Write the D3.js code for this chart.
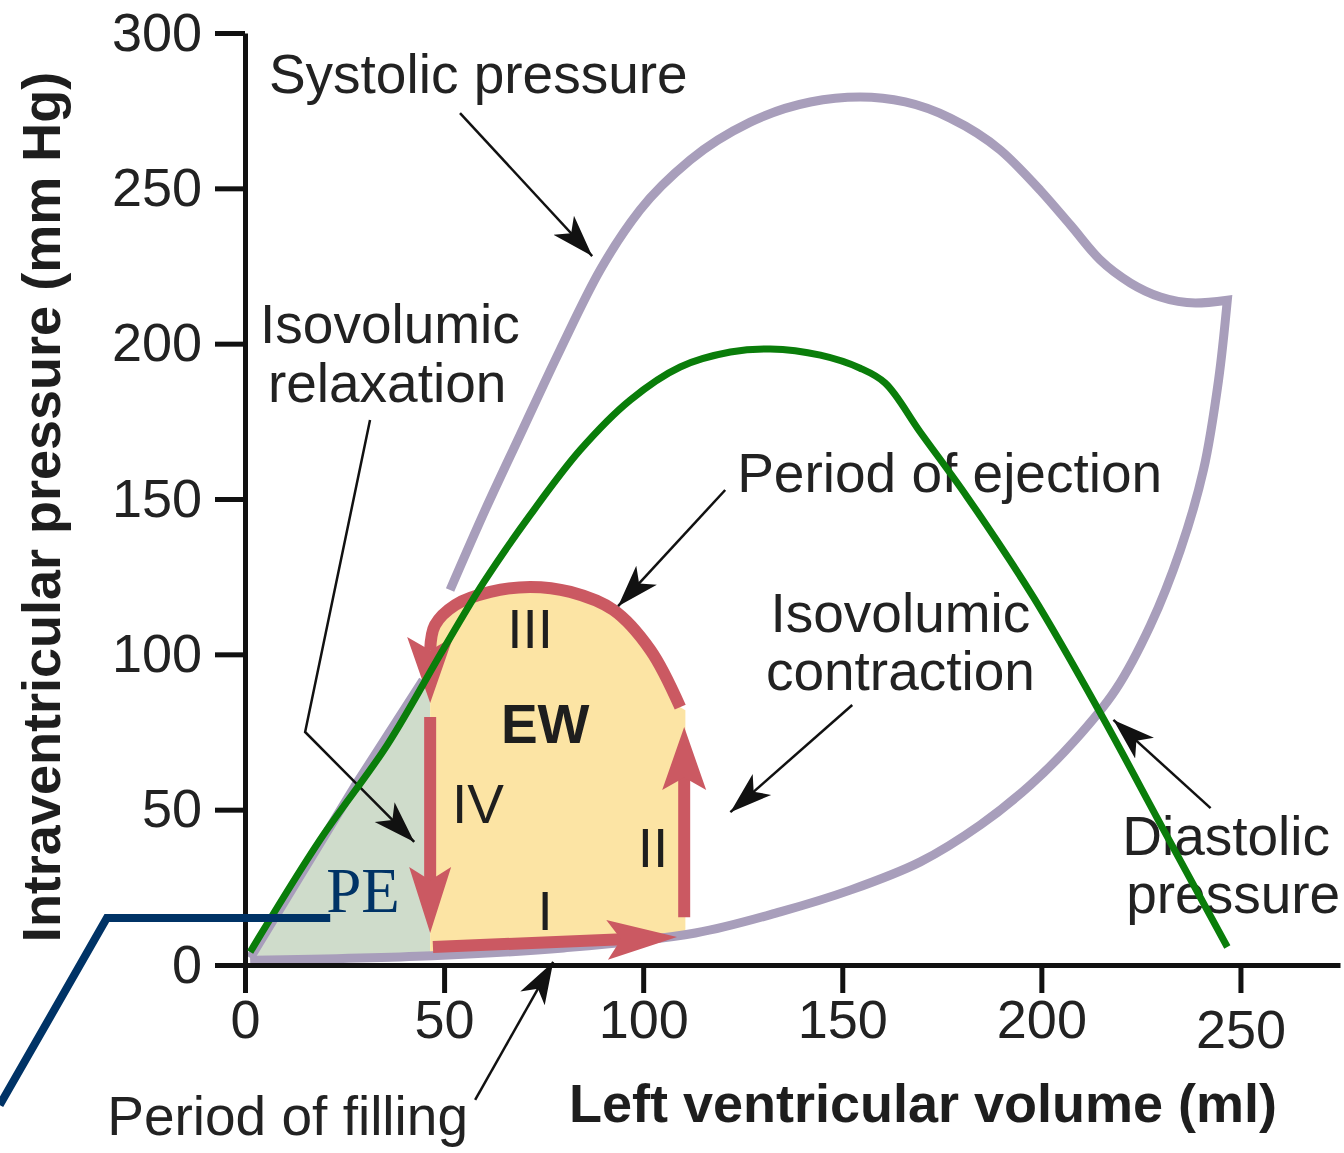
<!DOCTYPE html>
<head>
<meta charset="utf-8">
<script src="https://d3js.org/d3.v7.min.js"></script>
<style>
  body { margin:0; background:#fff; }
  svg { display:block; font-family:"Liberation Sans", Arial, sans-serif; }
  .axis text { font-size:54px; fill:#222; font-family:"Liberation Sans", Arial, sans-serif; }
  .axis path, .axis line { stroke:#111; stroke-width:5; }
  .note { font-size:55px; fill:#222; }
</style>
</head>
<body>
<div class="chart-container"></div>
<script>
// left ventricular volume (ml) vs intraventricular pressure (mm Hg)
var xTicks = [0, 50, 100, 150, 200, 250];
var yTicks = [0, 50, 100, 150, 200, 250, 300];

// lower left grey edge (origin up to the loop)
var baseVol   = [1.3, 28.1, 44.7];
var basePress = [2.3, 58.6, 91.7];

// systolic pressure curve
var sysVol   = [51.5, 60.3, 69.1, 79.1, 89.2, 99.2, 111.8, 126.9, 142.0, 154.5, 165.8, 177.1, 189.7, 199.7, 207.3, 214.8, 222.4, 229.9, 238.7, 246.7];
var sysPress = [120.7, 146.4, 170.6, 197.9, 223.7, 243.0, 259.1, 271.3, 277.8, 279.4, 277.8, 272.6, 262.3, 249.4, 238.2, 226.9, 219.5, 215.0, 213.1, 214.0];

// diastolic pressure curve (from the corner back down to the origin)
var diaVol   = [246.7, 244.5, 240.7, 234.9, 227.4, 218.6, 208.5, 197.2, 184.7, 169.6, 152.0, 134.4, 113.1, 80, 47, 1.3];
var diaPress = [214.0, 188.3, 159.3, 133.6, 109.4, 88.5, 72.4, 57.9, 45.1, 33.2, 24.1, 17.1, 10.3, 5.5, 3.0, 1.5];

// the work loop, phases I..IV
var fillVol = [47.2, 108.5],  fillPress = [5.8, 9.0];     // I
var contVol = [110.3, 110.3], contPress = [15.4, 76.6];   // II
var ejVol   = [109.3, 101.8, 92.5, 81.7, 71.6, 61.6, 52.8, 47.7, 46.5];   // III
var ejPress = [83.0, 101.4, 114.3, 120.1, 121.7, 120.1, 115.9, 109.4, 101.4];
var ejTipVol = 46.5, ejTipPress = 84.3;
var relVol  = [46.5, 46.5],   relPress  = [79.8, 10.3];   // IV

// green overlay curve
var greenVol   = [1.3, 18.8, 35.7, 49.7, 59.8, 71.6, 84.2, 96.7, 109.3, 121.9, 131.9, 144.5, 154.5, 160.8, 169.6, 181.4, 198.0, 214.8, 230.7, 246.7];
var greenPress = [4.2, 40.2, 70.8, 101.4, 122.9, 144.8, 165.8, 181.8, 192.5, 197.3, 198.3, 196.3, 192.1, 187.3, 171.5, 150.6, 118.4, 81.1, 43.5, 5.8];

// navy "PE" marker line
var peVol   = [-61.6, -34.7, 21.4];
var pePress = [-45.1, 15.1, 15.1];

var zip = function(a, b) { return a.map(function(v, i) { return [v, b[i]]; }); };

var svg = d3.select(".chart-container").append("svg")
  .attr("width", 1344)
  .attr("height", 1153);

var x = d3.scaleLinear().domain([0, 275]).range([245, 1340]);
var y = d3.scaleLinear().domain([0, 300]).range([965, 33]);

var line = d3.line().x(function(d) { return x(d[0]); }).y(function(d) { return y(d[1]); });
var smooth = d3.line().x(function(d) { return x(d[0]); }).y(function(d) { return y(d[1]); })
  .curve(d3.curveCatmullRom.alpha(0.5));
var mono = d3.line().x(function(d) { return x(d[0]); }).y(function(d) { return y(d[1]); })
  .curve(d3.curveMonotoneX);

var grey = "#a89ebb", red = "#cb5962";

// shaded areas
var tri = zip(baseVol, basePress);
tri.push([46.5, 95], [46.5, 3], [1.3, 1.5]);
svg.append("path").attr("d", line(tri) + "Z").attr("fill", "#cfdccb");

var arcPts = zip(ejVol, ejPress);
var arcRev = arcPts.slice().reverse();
var ewD = "M" + x(46.5) + "," + y(3.5) + "L" + smooth(arcRev).slice(1) +
  "L" + x(110.6) + "," + y(82) + "L" + x(110.6) + "," + y(9.3) + "Z";
svg.append("path").attr("d", ewD).attr("fill", "#fce4a4");

// grey pressure curves
svg.append("path").attr("d", line(zip(baseVol, basePress)))
  .attr("fill", "none").attr("stroke", grey).attr("stroke-width", 9);
svg.append("path")
  .attr("d", mono(zip(sysVol, sysPress)) + "L" + smooth(zip(diaVol, diaPress)).slice(1))
  .attr("fill", "none").attr("stroke", grey).attr("stroke-width", 9)
  .attr("stroke-linejoin", "miter");

// red loop with arrow heads
function head(tip, from, len, hw) {
  var tx = x(tip[0]), ty = y(tip[1]), fx = x(from[0]), fy = y(from[1]);
  var dx = tx - fx, dy = ty - fy, l = Math.sqrt(dx * dx + dy * dy);
  var ux = dx / l, uy = dy / l;
  var bx = tx - ux * len, by = ty - uy * len;
  var mx = tx - ux * len * 0.8, my = ty - uy * len * 0.8;
  return "M" + tx + "," + ty + "L" + (bx - uy * hw) + "," + (by + ux * hw) +
    "L" + mx + "," + my + "L" + (bx + uy * hw) + "," + (by - ux * hw) + "Z";
}
function shortLine(pts, len) {
  var a = pts[0], b = pts[1];
  var ax = x(a[0]), ay = y(a[1]), bx = x(b[0]), by = y(b[1]);
  var dx = bx - ax, dy = by - ay, l = Math.sqrt(dx * dx + dy * dy);
  return "M" + ax + "," + ay + "L" + (bx - dx / l * len) + "," + (by - dy / l * len);
}

var loop = svg.append("g");
var segs = [
  { pts: zip(fillVol, fillPress), len: 70, hw: 20 },
  { pts: zip(contVol, contPress), len: 63, hw: 22 },
  { pts: zip(relVol, relPress), len: 66, hw: 21 }
];
segs.forEach(function(s) {
  loop.append("path").attr("d", shortLine(s.pts, s.len * 0.7))
    .attr("stroke", red).attr("stroke-width", 12).attr("fill", "none");
  loop.append("path").attr("d", head(s.pts[1], s.pts[0], s.len, s.hw)).attr("fill", red);
});
loop.append("path").attr("d", smooth(arcPts))
  .attr("stroke", red).attr("stroke-width", 12).attr("fill", "none");
loop.append("path").attr("d", head([ejTipVol, ejTipPress], [46.5, 120], 66, 23)).attr("fill", red);

// roman numerals and EW
var loopLabels = [
  { t: "III", v: 71.6, p: 102.0, w: "normal" },
  { t: "EW",  v: 75.4, p: 71.5,  w: "bold" },
  { t: "IV",  v: 58.5, p: 45.7,  w: "normal" },
  { t: "II",  v: 102.5, p: 31.5, w: "normal" },
  { t: "I",   v: 75.4, p: 11.3,  w: "normal" }
];
svg.selectAll(".roman").data(loopLabels).enter().append("text")
  .attr("class", "roman")
  .attr("x", function(d) { return x(d.v); })
  .attr("y", function(d) { return y(d.p); })
  .attr("text-anchor", "middle")
  .attr("font-size", 55)
  .attr("font-weight", function(d) { return d.w; })
  .attr("fill", "#1e1e1e")
  .text(function(d) { return d.t; });

// callouts
var defs = svg.append("defs");
defs.append("marker").attr("id", "ah")
  .attr("markerUnits", "userSpaceOnUse")
  .attr("markerWidth", 46).attr("markerHeight", 34)
  .attr("refX", 42).attr("refY", 17).attr("orient", "auto")
  .append("path").attr("d", "M0,3 L42,17 L0,31 L11,17 Z").attr("fill", "#111");

var callouts = [
  [[54.0, 274.2], [87.2, 228.2]],
  [[31.4, 175.4], [15.1, 75.0], [42.5, 39.6]],
  [[120.6, 152.9], [93.7, 115.5]],
  [[152.5, 83.7], [121.9, 49.2]],
  [[242.5, 50.5], [218.1, 78.9]],
  [[57.8, -43.4], [77.4, 1.0]]
];
svg.selectAll(".callout").data(callouts).enter().append("path")
  .attr("class", "callout")
  .attr("d", line)
  .attr("fill", "none").attr("stroke", "#111").attr("stroke-width", 2.5)
  .attr("marker-end", "url(#ah)");

var notes = [
  { t: "Systolic pressure", v: 6.0, p: 280.7, a: "start" },
  { t: "Isovolumic", v: 36.4, p: 200.2, a: "middle" },
  { t: "relaxation", v: 35.7, p: 181.2, a: "middle" },
  { t: "Period of ejection", v: 123.6, p: 152.2, a: "start" },
  { t: "Isovolumic", v: 164.6, p: 107.2, a: "middle" },
  { t: "contraction", v: 164.6, p: 88.5, a: "middle" },
  { t: "Diastolic", v: 220.3, p: 35.4, a: "start" },
  { t: "pressure", v: 221.3, p: 16.7, a: "start" },
  { t: "Period of filling", v: -34.6, p: -54.7, a: "start" }
];
svg.selectAll(".note").data(notes).enter().append("text")
  .attr("class", "note")
  .attr("x", function(d) { return x(d.v); })
  .attr("y", function(d) { return y(d.p); })
  .attr("text-anchor", function(d) { return d.a; })
  .text(function(d) { return d.t; });

// axes
svg.append("g").attr("class", "axis")
  .attr("transform", "translate(245,0)")
  .call(d3.axisLeft(y).tickValues(yTicks).tickSize(30).tickSizeOuter(0).tickPadding(13));
var xg = svg.append("g").attr("class", "axis")
  .attr("transform", "translate(0,965)")
  .call(d3.axisBottom(x).tickValues(xTicks).tickSize(28).tickSizeOuter(0).tickPadding(7));
// the last volume label sits a little lower in the source figure
xg.selectAll(".tick text").filter(function(d) { return d === 250; }).attr("y", 45);

svg.append("text")
  .attr("x", 923).attr("y", 1122)
  .attr("text-anchor", "middle")
  .attr("font-size", 54).attr("font-weight", "bold").attr("fill", "#1e1e1e")
  .text("Left ventricular volume (ml)");
svg.append("text")
  .attr("transform", "translate(60,507) rotate(-90)")
  .attr("text-anchor", "middle")
  .attr("font-size", 54).attr("font-weight", "bold").attr("fill", "#1e1e1e")
  .text("Intraventricular pressure (mm Hg)");

// overlays drawn on top
svg.append("path").attr("d", smooth(zip(greenVol, greenPress)))
  .attr("fill", "none").attr("stroke", "#0a7d0a").attr("stroke-width", 7);
svg.append("path").attr("d", line(zip(peVol, pePress)))
  .attr("fill", "none").attr("stroke", "#003366").attr("stroke-width", 8);
svg.append("text")
  .attr("x", x(20.4)).attr("y", y(17.1))
  .attr("font-family", "'Liberation Serif', 'Times New Roman', serif")
  .attr("font-size", 63).attr("fill", "#003366")
  .text("PE");
</script>
</body>
